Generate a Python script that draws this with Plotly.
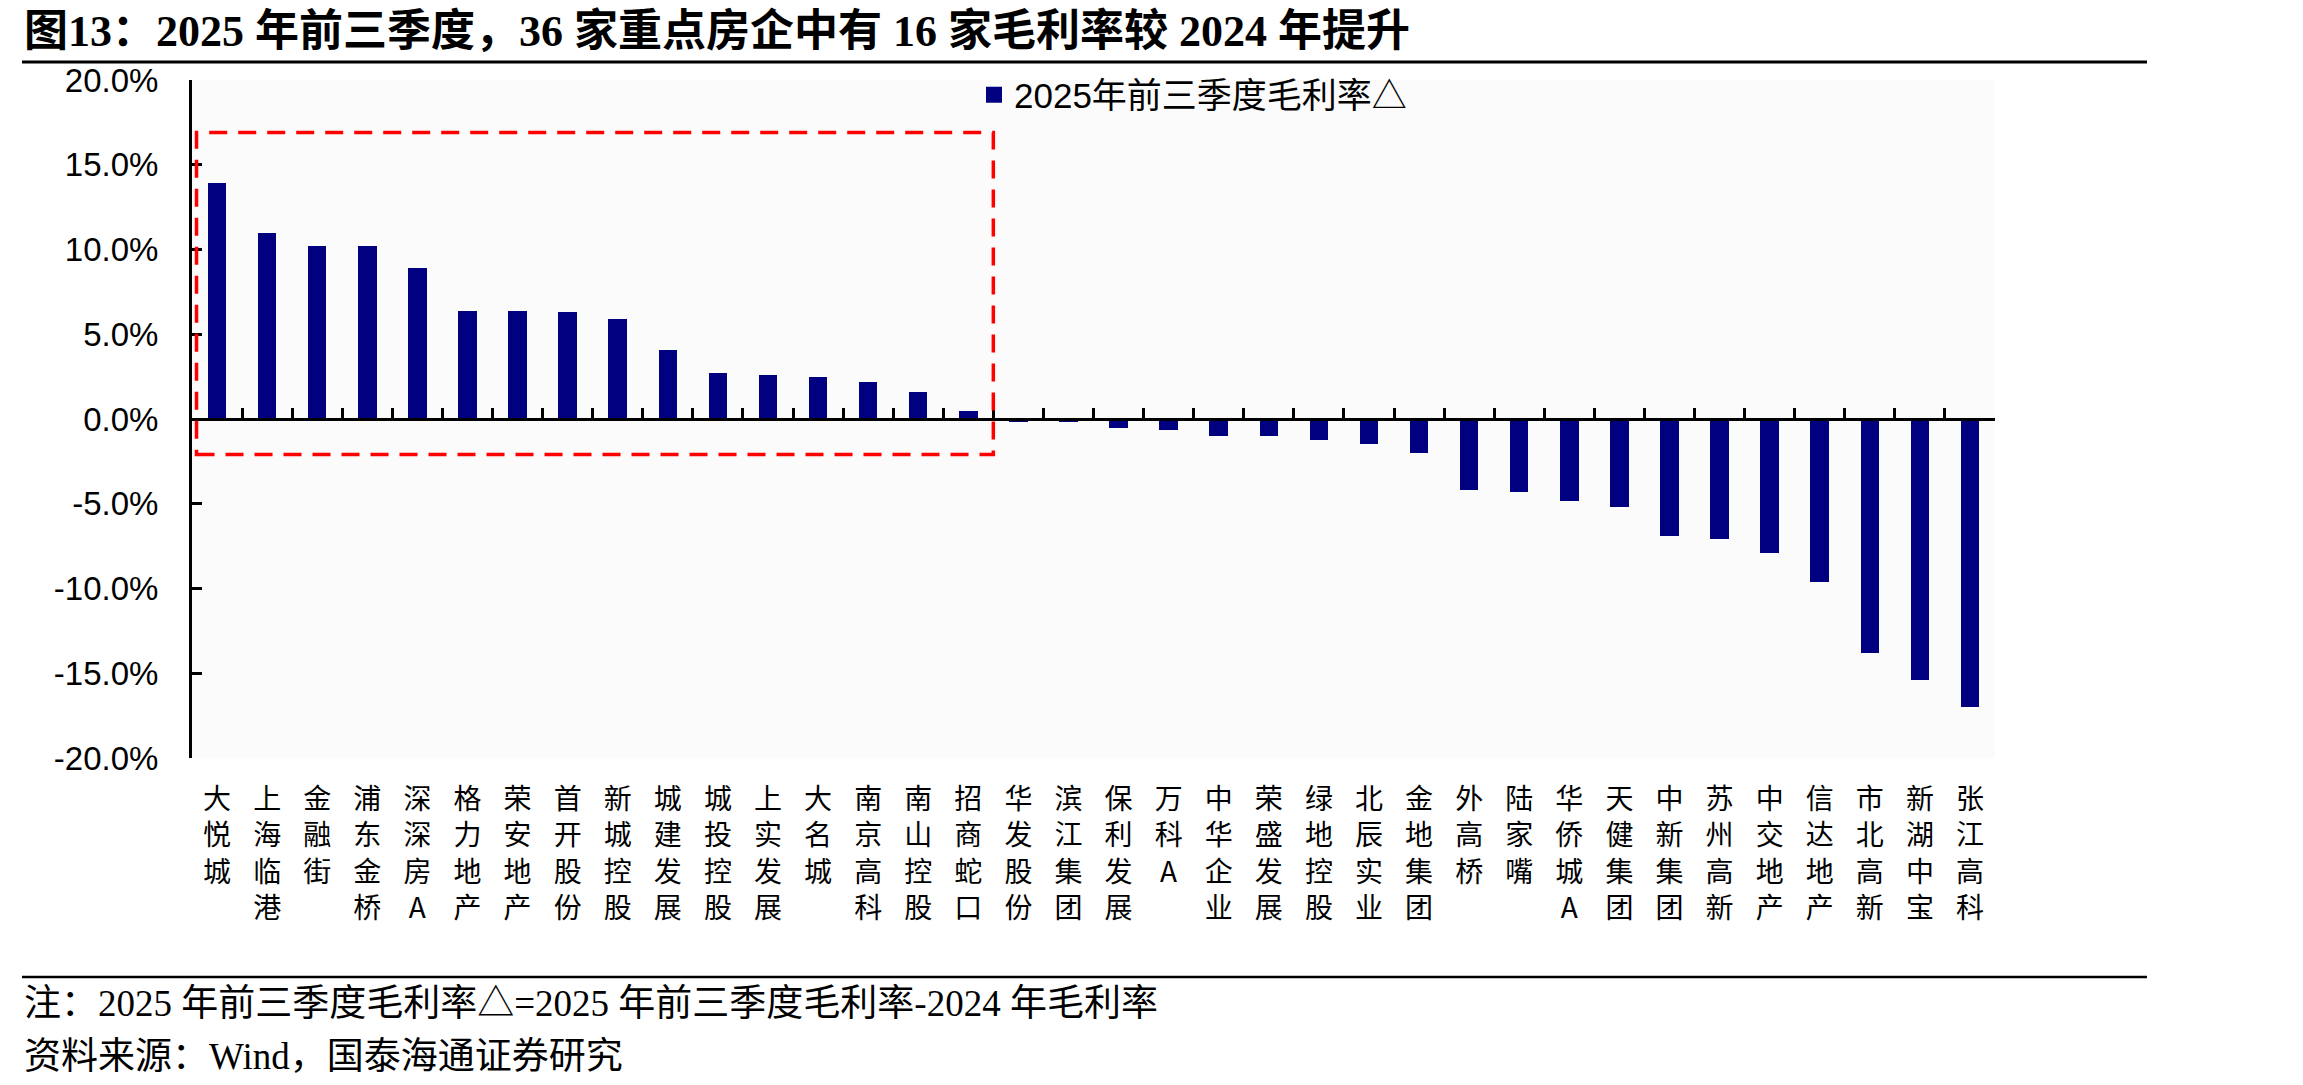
import plotly.graph_objects as go

# ---------------- data ----------------
companies = ["大悦城", "上海临港", "金融街", "浦东金桥", "深深房A", "格力地产", "荣安地产", "首开股份",
             "新城控股", "城建发展", "城投控股", "上实发展", "大名城", "南京高科", "南山控股", "招商蛇口",
             "华发股份", "滨江集团", "保利发展", "万科A", "中华企业", "荣盛发展", "绿地控股", "北辰实业",
             "金地集团", "外高桥", "陆家嘴", "华侨城A", "天健集团", "中新集团", "苏州高新", "中交地产",
             "信达地产", "市北高新", "新湖中宝", "张江高科"]
gm_delta = [13.9, 11.0, 10.2, 10.2, 8.9, 6.4, 6.4, 6.3,
            5.9, 4.1, 2.7, 2.6, 2.5, 2.2, 1.6, 0.45,
            -0.15, -0.15, -0.55, -0.65, -1.0, -1.0, -1.25, -1.45,
            -2.0, -4.2, -4.3, -4.85, -5.2, -6.9, -7.1, -7.9,
            -9.6, -13.8, -15.4, -17.0]
series_name = "2025年前三季度毛利率△"
ytick_vals = [20, 15, 10, 5, 0, -5, -10, -15, -20]
ytick_text = ["20.0%", "15.0%", "10.0%", "5.0%", "0.0%", "-5.0%", "-10.0%", "-15.0%", "-20.0%"]
title_text = "图13：2025 年前三季度，36 家重点房企中有 16 家毛利率较 2024 年提升"
note_text = "注：2025 年前三季度毛利率△=2025 年前三季度毛利率-2024 年毛利率"
source_text = "资料来源：Wind，国泰海通证券研究"

# highlight box (companies with improved gross margin)
n_up = sum(1 for v in gm_delta if v > 0)
box_top, box_bottom = 16.9, -2.1

# ---------------- figure ----------------
W, H = 2303, 1085
L, R, T, B = 192, 308, 80, 327
plot_h = H - T - B
plot_w = W - L - R

def py(pix):  # pixel y -> paper y
    return (H - B - pix) / plot_h

def px(pix):  # pixel x -> paper x
    return (pix - L) / plot_w

SANS = "Liberation Sans, Arial, Noto Sans CJK SC"
SERIF = "Liberation Serif, Times New Roman, Noto Sans CJK SC"
CJK = "Noto Sans CJK SC"
BAR_COLOR = "#000080"

vertical_labels = ["<br>".join(list(c)) for c in companies]

fig = go.Figure()
fig.add_trace(go.Bar(
    x=companies, y=gm_delta, name=series_name,
    marker=dict(color=BAR_COLOR, line=dict(width=0)),
    width=0.37, hoverinfo="skip", showlegend=False,
))
# legend entry (square swatch)
fig.add_trace(go.Scatter(
    x=[None], y=[None], mode="markers", name=series_name,
    marker=dict(symbol="square", size=20, color=BAR_COLOR),
    showlegend=True, hoverinfo="skip",
))
# invisible trace to build the category axis drawn at y = 0
fig.add_trace(go.Scatter(
    x=companies, y=gm_delta, xaxis="x2", mode="markers",
    marker=dict(opacity=0, size=1), showlegend=False, hoverinfo="skip",
))

n = len(companies)
fig.update_layout(
    width=W, height=H,
    margin=dict(l=L, r=R, t=T, b=B, pad=0),
    paper_bgcolor="white",
    plot_bgcolor="#fbfbfb",
    showlegend=True,
    legend=dict(
        x=px(974), xanchor="left", y=py(95), yanchor="middle",
        bgcolor="rgba(0,0,0,0)", borderwidth=0,
        font=dict(family=SANS, size=35, color="black"),
        itemwidth=30, itemsizing="trace", tracegroupgap=0,
    ),
    title=dict(
        text="<b>" + title_text + "</b>",
        xref="container", yref="container",
        x=24 / W, xanchor="left", y=1 - 31 / H, yanchor="middle",
        font=dict(family=SERIF, size=44, color="black"),
    ),
    xaxis=dict(
        type="category", range=[-0.5, n - 0.5],
        tickmode="array", tickvals=companies, ticktext=vertical_labels,
        showline=False, ticks="", showgrid=False, zeroline=False,
        tickfont=dict(family=CJK, size=28, color="black"),
        ticklabelstandoff=22, tickangle=0,
    ),
    xaxis2=dict(
        type="category", range=[-0.5, n - 0.5], overlaying="x",
        anchor="free", position=0.5, side="bottom",
        showline=True, linecolor="black", linewidth=3,
        ticks="inside", tickson="boundaries", ticklen=10, tickwidth=2.5, tickcolor="black",
        showticklabels=False, showgrid=False, zeroline=False,
    ),
    yaxis=dict(
        range=[-20, 20], tickmode="array", tickvals=ytick_vals, ticktext=ytick_text,
        showline=True, linecolor="black", linewidth=3,
        ticks="inside", ticklen=10, tickwidth=2.5, tickcolor="black",
        showgrid=False, zeroline=False,
        tickfont=dict(family=SANS, size=33, color="black"),
        ticklabelstandoff=24,
    ),
    bargap=0,
)

# red dashed highlight box
fig.add_shape(type="rect", xref="x", yref="y",
              x0=-0.41, x1=n_up - 0.5, y0=box_bottom, y1=box_top,
              line=dict(color="#FF0000", width=3.5, dash="18px,11px"),
              fillcolor="rgba(0,0,0,0)", layer="above")

# title rule and footer rule
fig.add_shape(type="line", xref="paper", yref="paper",
              x0=px(22), x1=px(2147), y0=py(62), y1=py(62),
              line=dict(color="black", width=3))
fig.add_shape(type="line", xref="paper", yref="paper",
              x0=px(22), x1=px(2147), y0=py(977), y1=py(977),
              line=dict(color="black", width=2.5))

# notes
fig.add_annotation(text=note_text, xref="paper", yref="paper",
                   x=px(22), xanchor="left", y=py(1004), yanchor="middle",
                   showarrow=False, font=dict(family=SERIF, size=37, color="black"))
fig.add_annotation(text=source_text, xref="paper", yref="paper",
                   x=px(22), xanchor="left", y=py(1056), yanchor="middle",
                   showarrow=False, font=dict(family=SERIF, size=37, color="black"))

fig.write_html("out.html")
